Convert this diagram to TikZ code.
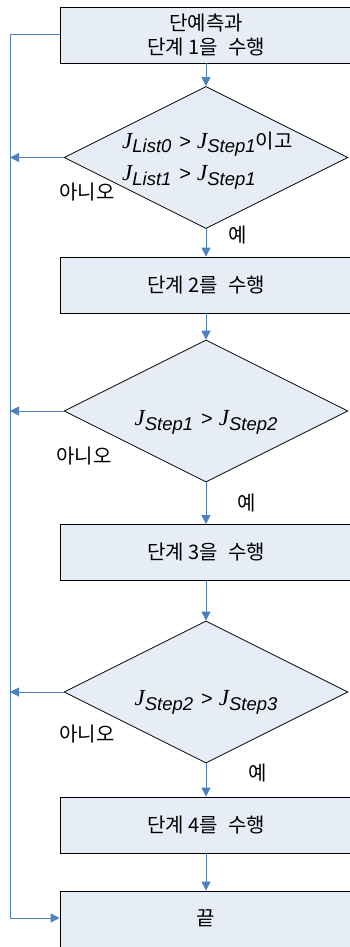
\documentclass[tikz,border=0pt]{standalone}
\usepackage{fontspec}
\setmainfont{Liberation Serif}
\newfontfamily\kr{Noto Sans CJK KR}[WordSpace=2.2]
\newfontfamily\jserif{Liberation Serif}
\newfontfamily\jsans{Liberation Sans}
\usetikzlibrary{shapes.geometric,arrows.meta}
\definecolor{boxfill}{RGB}{230,237,247}
\definecolor{flow}{RGB}{79,129,189}
\newcommand{\JJ}[1]{{\fontsize{23}{23}\selectfont\jserif\itshape J}\raisebox{-5pt}{\fontsize{18.5}{18.5}\selectfont\jsans\itshape #1}}
\newcommand{\GT}{\hspace{8pt}{\fontsize{20}{20}\selectfont\jsans >}\hspace{6pt}}
\newcommand{\ns}{\hspace{5pt}}
\tikzset{
  stepbox/.style={draw=black, line width=0.8pt, fill=boxfill, minimum width=292pt, inner sep=0pt},
  decision/.style={draw=black, line width=0.8pt, fill=boxfill, diamond, inner sep=0pt, minimum width=284pt, minimum height=142pt},
  txt/.style={font=\fontsize{20}{24}\selectfont\kr, inner sep=0pt, align=center},
  lab/.style={font=\fontsize{20}{24}\selectfont\kr, inner sep=0pt},
  flowline/.style={draw=flow, line width=1pt, -{Triangle[length=9pt,width=9pt]}},
  railline/.style={draw=flow, line width=1pt}
}
\begin{document}
\begin{tikzpicture}[x=1pt,y=-1pt]
\useasboundingbox (0,0) rectangle (350,947);
\clip (0,0) rectangle (350,947);
% boxes
\node[stepbox, minimum height=56pt] (b1) at (206,35) {};
\node[txt] (t1) at (206,35) {단예측과\\단계\ns1을 수행};
\node[decision] (d1) at (206,157.5) {};
\node[stepbox, minimum height=56pt] (b2) at (206,285) {};
\node[txt] (t2) at (206,285) {단계\ns2를 수행};
\node[decision] (d2) at (206,411) {};
\node[stepbox, minimum height=56pt] (b3) at (206,552.5) {};
\node[txt] (t3) at (206,552.5) {단계\ns3을 수행};
\node[decision] (d3) at (206,692) {};
\node[stepbox, minimum height=56pt] (b4) at (206,825) {};
\node[txt] (t4) at (206,825) {단계\ns4를 수행};
\node[stepbox, minimum height=60pt] (b5) at (206,921) {};
\node[txt] (t5) at (206,918) {끝};
% formulas
\node[anchor=base west, inner sep=0pt] (f1a) at (122,148) {\JJ{List0}\GT\JJ{Step1}{\fontsize{20}{20}\selectfont\kr 이고}};
\node[anchor=base west, inner sep=0pt] (f1b) at (122,180) {\JJ{List1}\GT\JJ{Step1}};
\node[anchor=base, inner sep=0pt] (f2) at (206,425) {\JJ{Step1}\GT\JJ{Step2}};
\node[anchor=base, inner sep=0pt] (f3) at (206,705) {\JJ{Step2}\GT\JJ{Step3}};
% labels
\node[lab] (n1) at (87,192) {아니오};
\node[lab] (y1) at (238,235) {예};
\node[lab] (n2) at (84,456) {아니오};
\node[lab] (y2) at (247,503) {예};
\node[lab] (n3) at (87,734) {아니오};
\node[lab] (y3) at (258,773) {예};
% connectors
\coordinate (rail) at (10,35);
\draw[flowline] (b1.south) -- (d1.north);
\draw[flowline] (d1.south) -- (b2.north);
\draw[flowline] (b2.south) -- (d2.north);
\draw[flowline] (d2.south) -- (b3.north);
\draw[flowline] (b3.south) -- (d3.north);
\draw[flowline] (d3.south) -- (b4.north);
\draw[flowline] (b4.south) -- (b5.north);
\draw[flowline] (d1.west) -- (d1.west -| rail);
\draw[flowline] (d2.west) -- (d2.west -| rail);
\draw[flowline] (d3.west) -- (d3.west -| rail);
\draw[flowline] (b1.west |- rail) -- (rail) -- (rail |- t5) -- (b5.west |- t5);
\end{tikzpicture}
\end{document}
